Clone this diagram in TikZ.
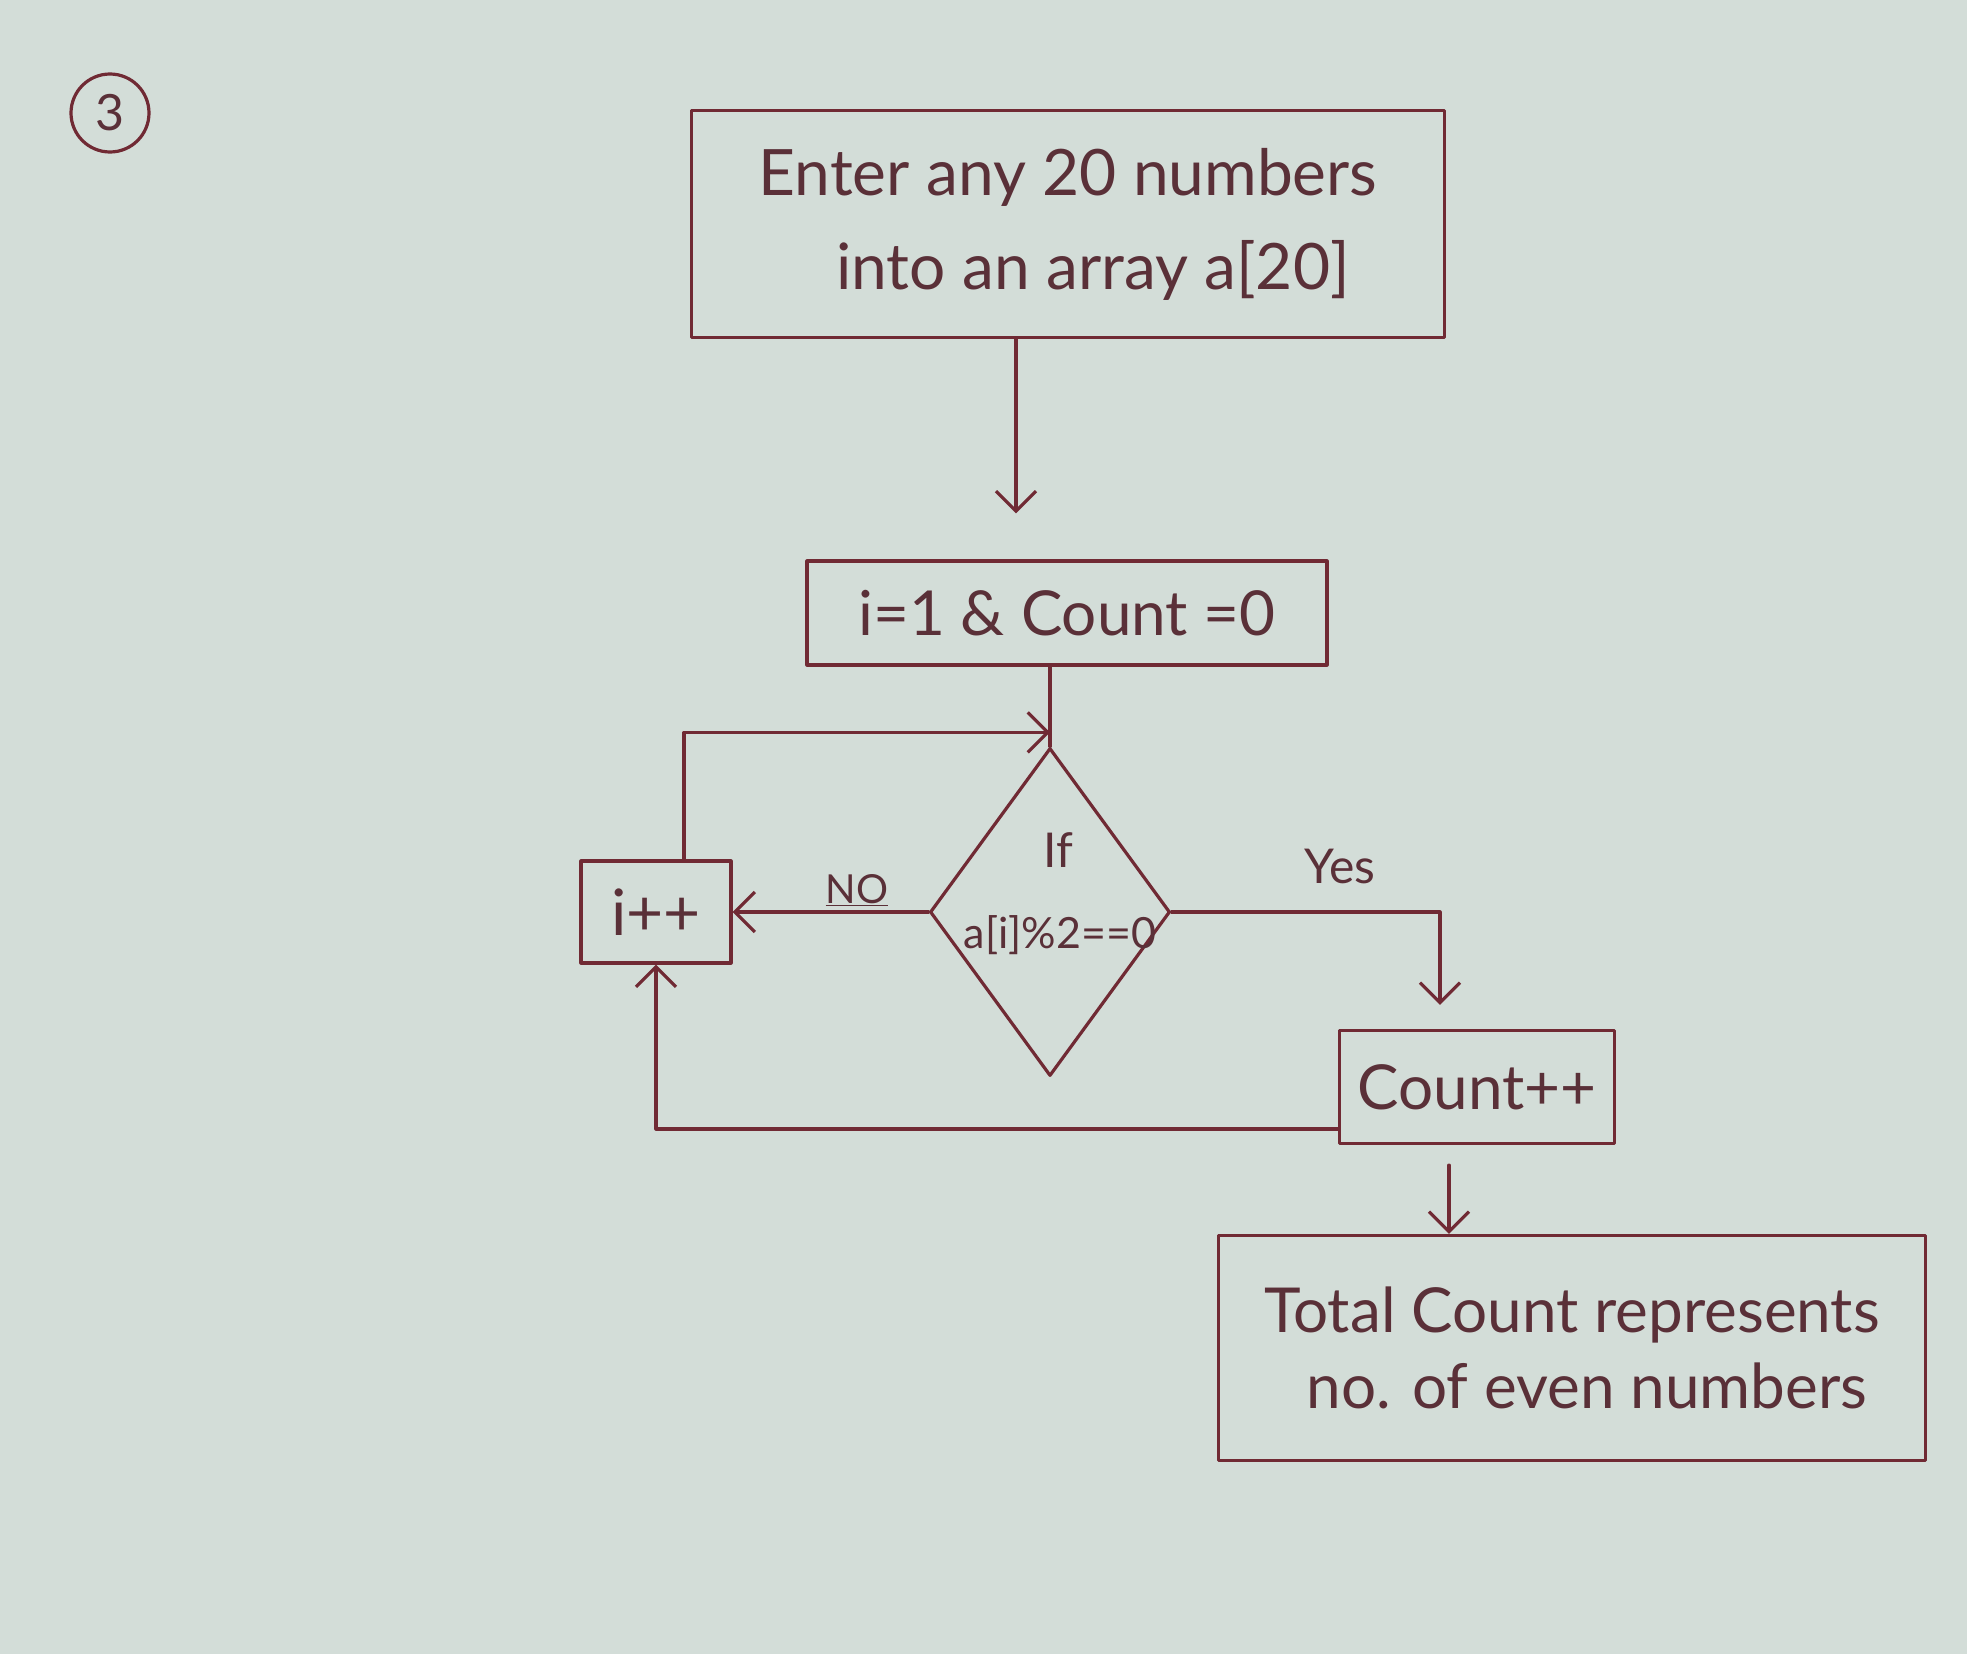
\documentclass[tikz,border=0pt]{standalone}
\usepackage{fontspec}
\setmainfont{Lato}
\usetikzlibrary{arrows.meta,shapes.geometric}
\definecolor{paper}{RGB}{211,221,216}
\definecolor{ink}{RGB}{112,42,52}
\definecolor{txt}{RGB}{90,48,56}
\begin{document}
\begin{tikzpicture}[x=1pt,y=-1pt,
  line/.style={draw=ink,line width=3.2pt,line cap=round,line join=round},
  arr/.style={line,-{Straight Barb[length=20pt,width=40pt,line width=3.2pt]}},
  boxnode/.style={line,rectangle,inner sep=0pt,text=txt},
  lab/.style={text=txt,inner sep=0pt}
]
\fill[paper] (0,0) rectangle (1967,1654);
\useasboundingbox (0,0) rectangle (1967,1654);

\node[circle,line,minimum size=78pt,inner sep=0pt,text=txt,font=\fontsize{50}{60}\selectfont] (num) at (110,113) {3};

\node[boxnode,minimum width=753pt,minimum height=227pt,align=center,font=\fontsize{64}{94}\selectfont] (b1) at (1068,224) {Enter any 20 numbers\\ \hspace*{50pt}into an array a[20]};
\node[boxnode,minimum width=520pt,minimum height=104pt,font=\fontsize{62}{66}\selectfont] (b2) at (1067,613) {i=1 \& Count =0};
\node[diamond,line,minimum width=240pt,minimum height=328pt,inner sep=0pt] (dia) at (1050,912) {};
\node[lab,font=\fontsize{48}{50}\selectfont] (iftxt) at (1058,850) {If};
\node[lab,font=\fontsize{43}{50}\selectfont] (cond) at (1060,935) {a[i]\%2==0};
\node[boxnode,minimum width=150pt,minimum height=102pt,font=\fontsize{64}{66}\selectfont] (ipp) at (656,912) {i++};
\node[boxnode,minimum width=275pt,minimum height=113pt,font=\fontsize{62}{66}\selectfont] (cnt) at (1477,1087) {Count++};
\node[boxnode,minimum width=707pt,minimum height=225pt,align=center,font=\fontsize{62}{76}\selectfont] (tot) at (1572,1348) {Total Count represents\\ \hspace*{30pt}no. of even numbers};

\coordinate (t2) at ([xshift=-51pt,yshift=46pt]b2.north);
\draw[arr] (t2 |- b1.south) -- (t2);

\draw[line] (dia.north |- b2.south) -- (dia.north);
\coordinate (join) at ([yshift=14pt]dia.north);
\draw[arr] ([xshift=28pt]ipp.north) |- (join);

\draw[arr] (dia.west) -- (ipp.east);
\node[lab,font=\fontsize{40}{44}\selectfont] (nolab) at (857,890) {\underline{NO}};

\coordinate (cntin) at ([xshift=-37pt,yshift=24pt]cnt.north);
\draw[arr] (dia.east) -| (cntin);
\node[lab,font=\fontsize{48}{50}\selectfont] (yeslab) at (1340,866) {Yes};

\draw[arr] ([yshift=-42pt]cnt.west) -| (ipp.south);

\coordinate (c2t) at ([xshift=-28pt,yshift=-20pt]cnt.south);
\draw[arr] (c2t) -- (c2t |- tot.north);
\end{tikzpicture}
\end{document}
